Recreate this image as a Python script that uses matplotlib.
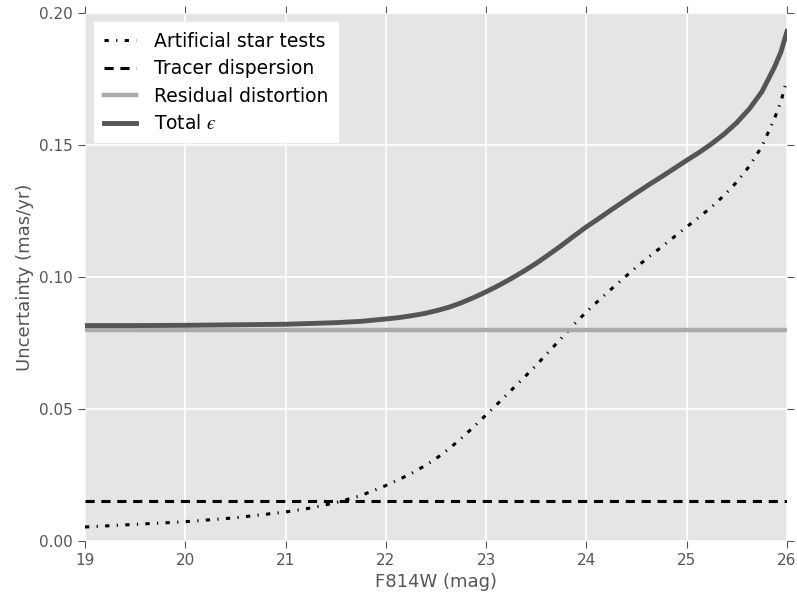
import matplotlib
matplotlib.use('Agg')
import matplotlib.pyplot as plt

# magnitudes and uncertainties (mas/yr)
mag = [19.0, 19.5, 20.0, 20.5, 21.0, 21.25, 21.5, 21.75,
       22.0, 22.125, 22.25, 22.375, 22.5, 22.625, 22.75, 22.875,
       23.0, 23.125, 23.25, 23.375, 23.5, 23.625, 23.75, 23.875,
       24.0, 24.125, 24.25, 24.375, 24.5, 24.625, 24.75, 24.875,
       25.0, 25.125, 25.25, 25.375, 25.5, 25.625, 25.75, 25.875, 25.94, 26.0]
artificial = [0.0053, 0.0063, 0.0073, 0.0088, 0.0110, 0.0125, 0.0145, 0.0172,
              0.0210, 0.0232, 0.0255, 0.0282, 0.0312, 0.0348, 0.0388, 0.0432,
              0.0478, 0.0524, 0.0571, 0.0618, 0.0666, 0.0717, 0.0768, 0.0820,
              0.0868, 0.0912, 0.0955, 0.0997, 0.1038, 0.1077, 0.1114, 0.1152,
              0.1190, 0.1227, 0.1266, 0.1310, 0.1360, 0.1420, 0.1495, 0.1600, 0.1665, 0.1750]
total = [0.0816, 0.0816, 0.0817, 0.0819, 0.0821, 0.0824, 0.0827, 0.0832,
         0.0841, 0.0846, 0.0853, 0.0861, 0.0872, 0.0885, 0.0902, 0.0922,
         0.0944, 0.0968, 0.0994, 0.1022, 0.1052, 0.1085, 0.1119, 0.1155,
         0.1190, 0.1222, 0.1255, 0.1287, 0.1319, 0.1350, 0.1380, 0.1411,
         0.1442, 0.1472, 0.1505, 0.1542, 0.1585, 0.1637, 0.1702, 0.1795, 0.1853, 0.1930]
tracer = 0.015
residual = 0.08
xlim = [19, 26]

grey = '#555555'
plt.rcParams['font.family'] = 'DejaVu Sans'
plt.rcParams['mathtext.fontset'] = 'stix'

fig = plt.figure(figsize=(7.97, 5.96), dpi=100)
ax = fig.add_axes([85 / 797., 1 - 541 / 596., 702 / 797., 528 / 596.])
ax.set_facecolor('#E5E5E5')
ax.set_axisbelow(True)
ax.grid(True, color='white', linewidth=1.2)
for s in ax.spines.values():
    s.set_visible(False)

ax.plot(mag, artificial, color='black', linewidth=2.2, dashes=(1.4, 2.4, 0.4, 2.4),
        label='Artificial star tests')
ax.plot(xlim, [tracer, tracer], color='black', linewidth=2.2, dashes=(3, 2.2),
        label='Tracer dispersion')
ax.plot(xlim, [residual, residual], color='#AAAAAA', linewidth=3.2,
        label='Residual distortion')
ax.plot(mag, total, color=grey, linewidth=3.5, label='Total $\u03f5$')

ax.set_xlim(xlim)
ax.set_ylim(0, 0.2)
ax.set_xticks(range(19, 27))
ax.set_yticks([0.0, 0.05, 0.10, 0.15, 0.20])
ax.set_yticklabels(['0.00', '0.05', '0.10', '0.15', '0.20'])
ax.tick_params(direction='out', length=5, color=grey, labelcolor=grey, labelsize=11,
               top=True, right=True)
ax.set_xlabel('F814W (mag)', color=grey, fontsize=13)
ax.set_ylabel('Uncertainty (mas/yr)', color=grey, fontsize=13)

leg = ax.legend(loc='upper left', fontsize=13.5, frameon=True, fancybox=False,
                handlelength=1.7, handletextpad=1.0, borderpad=0.5, labelspacing=0.45)
leg.get_frame().set_facecolor('white')
leg.get_frame().set_edgecolor('white')
leg.get_frame().set_alpha(1)

fig.savefig('out.png', dpi=100)
